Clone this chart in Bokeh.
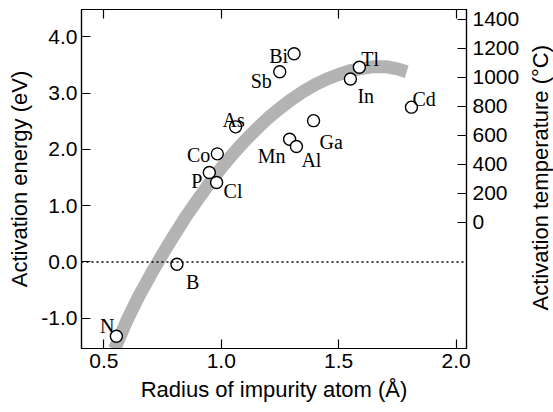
from bokeh.plotting import figure
from bokeh.layouts import row
from bokeh.models import (LinearAxis, Range1d, FixedTicker, PrintfTickFormatter,
                          Span, ColumnDataSource, Title, CustomLabelingPolicy)
from bokeh.core.properties import value
from bokeh.embed import file_html
from bokeh.resources import INLINE

# ---- data ----
elements = ["N", "B", "P", "Cl", "Co", "As", "Mn", "Al", "Ga", "Bi", "Sb", "Tl", "In", "Cd"]
radius = [0.553, 0.811, 0.949, 0.980, 0.983, 1.061, 1.291, 1.320, 1.393, 1.310, 1.249, 1.588, 1.550, 1.810]
energy = [-1.32, -0.04, 1.59, 1.41, 1.92, 2.40, 2.18, 2.05, 2.51, 3.70, 3.38, 3.46, 3.25, 2.75]

trend_x = [0.545, 0.60, 0.65, 0.70, 0.75, 0.80, 0.85, 0.90, 0.95, 1.00, 1.05, 1.10, 1.15, 1.20,
           1.25, 1.30, 1.35, 1.40, 1.45, 1.50, 1.55, 1.60, 1.65, 1.70, 1.75, 1.79]
trend_y = [-1.55, -1.02, -0.60, -0.22, 0.14, 0.48, 0.81, 1.11, 1.40, 1.67, 1.92, 2.15, 2.36, 2.56,
           2.73, 2.89, 3.03, 3.15, 3.25, 3.33, 3.40, 3.44, 3.47, 3.47, 3.43, 3.38]

x_ticks = [0.5, 1.0, 1.5, 2.0]
y_ticks = [-1.0, 0.0, 1.0, 2.0, 3.0, 4.0]
temp_ticks = [0, 200, 400, 600, 800, 1000, 1200, 1400]

x_title = "Radius of impurity atom (Å)"
y_title = "Activation energy (eV)"
temp_title = "Activation temperature (°C)"

# ---- label placement (styling, screen pixels) ----
label_align = ["right", "left", "right", "left", "right", "center", "right", "left", "left",
               "right", "right", "left", "left", "left"]
label_dx = [-2, 9, -7, 7, -7, -2, -4, 5, 6, -6, -8, 2, 7, 1]
label_dy = [-10, 18, 9, 8, 1, -7, 17, 13, 21, 2, 9, -8, 17, -8]

AX_FONT = "Liberation Sans"
LBL_FONT = "Liberation Serif"

xr = Range1d(0.4045, 2.0445)
yr = Range1d(-1.538, 4.485)

p = figure(width=522, height=412, x_range=xr, y_range=yr,
           output_backend="svg", toolbar_location=None,
           min_border_left=81, min_border_right=54, min_border_top=9, min_border_bottom=64)
p.grid.visible = False
p.outline_line_color = "black"
p.outline_line_width = 1.2
p.background_fill_color = "white"
p.border_fill_color = "white"

def style_axis(ax):
    ax.axis_line_color = "black"
    ax.axis_line_width = 1.2
    ax.major_tick_line_color = "black"
    ax.major_tick_line_width = 1.2
    ax.major_tick_in = 9
    ax.major_tick_out = 0
    ax.minor_tick_line_color = None
    ax.major_label_text_font = AX_FONT
    ax.major_label_text_font_size = "21px"
    ax.major_label_text_color = "black"
    ax.axis_label_text_font = AX_FONT
    ax.axis_label_text_font_size = "22px"
    ax.axis_label_text_font_style = "normal"
    ax.axis_label_text_color = "black"

xa = p.xaxis[0]
style_axis(xa)
xa.ticker = FixedTicker(ticks=x_ticks)
xa.formatter = PrintfTickFormatter(format="%.1f")
xa.axis_label = x_title
xa.major_label_standoff = 5
xa.axis_label_standoff = 6

ya = p.yaxis[0]
style_axis(ya)
ya.ticker = FixedTicker(ticks=y_ticks)
ya.formatter = PrintfTickFormatter(format="%.1f")
ya.axis_label = y_title
ya.major_label_standoff = 4
ya.axis_label_standoff = 6

top = LinearAxis(ticker=FixedTicker(ticks=x_ticks))
style_axis(top)
top.major_label_text_font_size = "1px"
top.major_label_standoff = 0
top.major_label_policy = CustomLabelingPolicy(code="return new Set()")
p.add_layout(top, "above")

p.extra_y_ranges = {"temp": Range1d(-872, 1467)}
ra = LinearAxis(y_range_name="temp", ticker=FixedTicker(ticks=temp_ticks))
style_axis(ra)
ra.major_label_standoff = 6
p.add_layout(ra, "right")

p.line(trend_x, trend_y, line_color="#b3b3b3", line_width=13, line_cap="butt")

p.add_layout(Span(location=0, dimension="width", line_color="black",
                  line_width=1.5, line_dash="2 3"))

src = ColumnDataSource(dict(x=radius, y=energy, name=elements,
                            align=label_align, dx=label_dx, dy=label_dy))
p.scatter("x", "y", source=src, size=12, fill_color="white",
          line_color="black", line_width=1.4)
p.text("x", "y", text="name", source=src, text_align="align",
       text_baseline="alphabetic", x_offset="dx", y_offset="dy",
       text_font=value(LBL_FONT), text_font_size="20px", text_color="black")

# narrow strip holding the right-hand axis title (reads bottom-to-top)
p2 = figure(width=31, height=412, output_backend="svg", toolbar_location=None,
            min_border_left=30, min_border_right=0, min_border_top=9, min_border_bottom=64)
p2.axis.visible = False
p2.grid.visible = False
p2.outline_line_color = None
p2.background_fill_color = "white"
p2.border_fill_color = "white"
p2.add_layout(Title(text=temp_title, align="left", offset=38, standoff=0,
                    text_font=AX_FONT, text_font_size="22px", text_font_style="normal",
                    text_color="black"), "left")

layout = row(p, p2)
open("out.html", "w").write(file_html(layout, INLINE))
